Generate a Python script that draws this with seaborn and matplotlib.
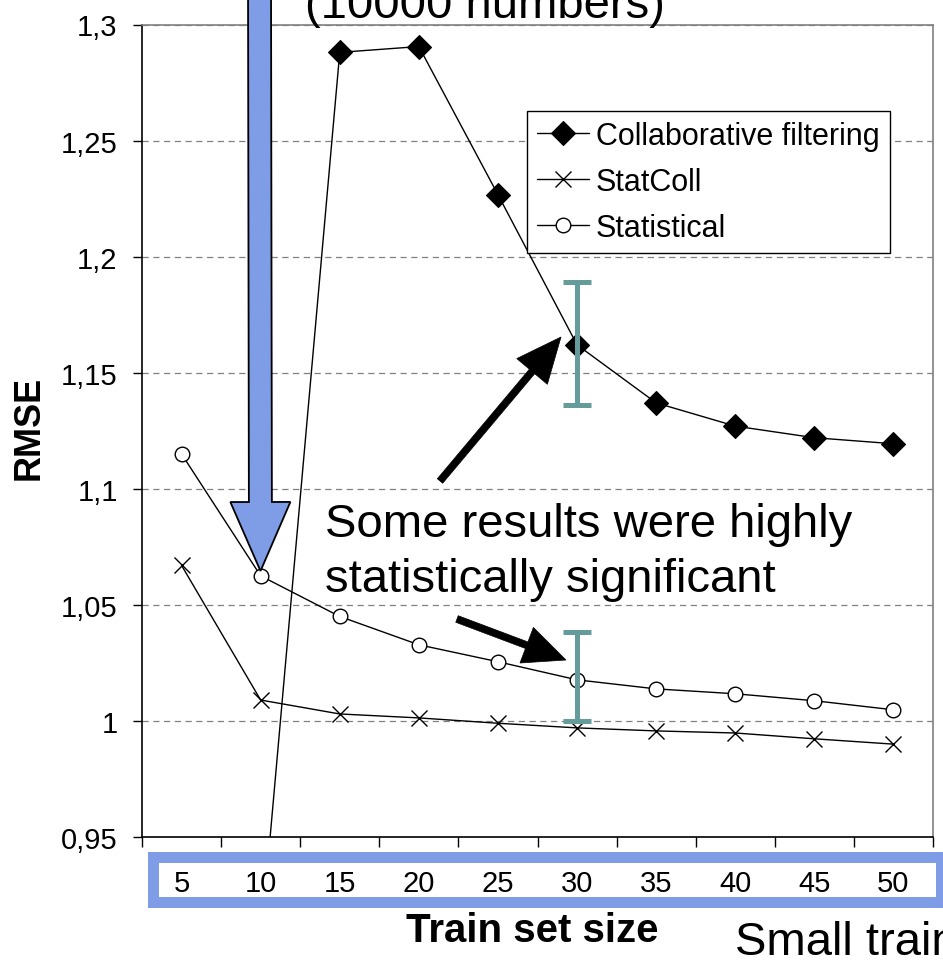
import numpy as np
import matplotlib
matplotlib.use("Agg")
import matplotlib.pyplot as plt
import seaborn as sns
from matplotlib.patches import Polygon, Rectangle
from matplotlib.transforms import Affine2D

# ---------------- data ----------------
train_sizes = [5, 10, 15, 20, 25, 30, 35, 40, 45, 50]
collab = [np.nan, 0.904, 1.288, 1.2905, 1.2267, 1.162, 1.137, 1.127, 1.122, 1.1194]
statcoll = [1.067, 1.009, 1.003, 1.0013, 0.999, 0.997, 0.9957, 0.9948, 0.9923, 0.990]
statistical = [1.115, 1.0625, 1.045, 1.0328, 1.0255, 1.0177, 1.0138, 1.0117, 1.0087, 1.0048]
series_names = ["Collaborative filtering", "StatColl", "Statistical"]
x_tick_labels = ["5", "10", "15", "20", "25", "30", "35", "40", "45", "50"]
y_ticks = [0.95, 1.0, 1.05, 1.1, 1.15, 1.2, 1.25, 1.3]
y_tick_labels = ["0,95", "1", "1,05", "1,1", "1,15", "1,2", "1,25", "1,3"]
sig_x = [30, 30]
sig_low = [1.1362, 1.0]
sig_high = [1.1892, 1.0384]

# ---------------- style ----------------
sns.set_style("white")
plt.rcParams["font.family"] = ["Liberation Sans", "DejaVu Sans"]
plt.rcParams["text.color"] = "black"
plt.rcParams["axes.labelcolor"] = "black"
plt.rcParams["xtick.color"] = "black"
plt.rcParams["ytick.color"] = "black"

W, H = 943, 962
fig = plt.figure(figsize=(W / 100, H / 100), dpi=100)
fig.patch.set_facecolor("white")
ax = fig.add_axes([142 / W, 1 - 838 / H, (933 - 142) / W, (838 - 25.5) / H])
ax.set_facecolor("white")

# pixel (top-left origin) -> figure transform
px = Affine2D().scale(1 / W, -1 / H).translate(0, 1) + fig.transFigure

BLUE = "#7f9ce6"
TEAL = "#649c9c"

sns.lineplot(x=train_sizes, y=collab, ax=ax, color="black", lw=1, marker="D",
             markersize=12.5, mfc="black", mec="black", mew=0.8,
             label=series_names[0], errorbar=None, zorder=3)
sns.lineplot(x=train_sizes, y=statcoll, ax=ax, color="black", lw=1, marker="x",
             markersize=12, mfc="black", mec="black", mew=1.0,
             label=series_names[1], errorbar=None, zorder=3)
sns.lineplot(x=train_sizes, y=statistical, ax=ax, color="black", lw=1, marker="o",
             markersize=10.5, mfc="white", mec="black", mew=1.0,
             label=series_names[2], errorbar=None, zorder=3)

# significance bars
mid = [(a + b) / 2 for a, b in zip(sig_low, sig_high)]
err = [[m - a for m, a in zip(mid, sig_low)], [b - m for m, b in zip(mid, sig_high)]]
ax.errorbar(sig_x, mid, yerr=err, fmt="none", ecolor=TEAL, elinewidth=3.6,
            capsize=10, capthick=3.6, zorder=5)

# axes
ax.set_xlim(2.5, 52.5)
ax.set_ylim(0.95, 1.3)
boundaries = np.arange(2.5, 53, 5)
ax.set_xticks(boundaries)
ax.set_xticklabels([""] * len(boundaries))
ax.set_xticks(train_sizes, minor=True)
ax.set_xticklabels(x_tick_labels, minor=True)
ax.tick_params(axis="x", which="major", length=7.2, width=1, direction="out", bottom=True)
ax.tick_params(axis="x", which="minor", length=0, pad=23, labelsize=21, bottom=True)
ax.set_yticks(y_ticks)
ax.set_yticklabels(y_tick_labels)
ax.tick_params(axis="y", length=6.5, width=1, direction="out", pad=11, labelsize=21, left=True)

ax.grid(axis="y", which="major", color="#808080", linestyle=(0, (5, 3.6)), lw=0.9)
ax.grid(axis="x", visible=False)
ax.set_axisbelow(True)

for s in ["left", "bottom"]:
    ax.spines[s].set_color("black")
    ax.spines[s].set_linewidth(1.2)
for s in ["top", "right"]:
    ax.spines[s].set_color("#808080")
    ax.spines[s].set_linewidth(1.2)
    ax.spines[s].set_visible(True)

ax.set_xlabel("Train set size", fontsize=29, fontweight="bold")
ax.xaxis.set_label_coords(0.493, (838 - 912) / 812)
ax.set_ylabel("RMSE", fontsize=26, fontweight="bold")
ax.yaxis.set_label_coords((47 - 142) / 791, (838 - 428) / 812)

leg = ax.legend(loc="upper left", bbox_to_anchor=(527 / W, 1 - 112 / H),
                bbox_transform=fig.transFigure, fontsize=22, frameon=True,
                fancybox=False, edgecolor="black", framealpha=1, borderaxespad=0,
                handlelength=1.7, handletextpad=0.23, borderpad=0.33, labelspacing=0.52)
leg.get_frame().set_linewidth(1.0)

# blue box around x tick labels
fig.add_artist(Rectangle((152.5, 857.5), 941 - 152.5, 902.5 - 857.5, transform=px,
                         fill=False, edgecolor=BLUE, lw=11 * 0.72, zorder=2))


def arrow_pts(x0, y0, x1, y1, sw, hw, hl):
    d = np.array([x1 - x0, y1 - y0], float)
    L = np.hypot(*d)
    u = d / L
    n = np.array([-u[1], u[0]])
    p0 = np.array([x0, y0], float)
    base = p0 + u * (L - hl)
    tip = np.array([x1, y1], float)
    return [p0 + n * sw / 2, base + n * sw / 2, base + n * hw / 2, tip,
            base - n * hw / 2, base - n * sw / 2, p0 - n * sw / 2]


# big blue arrow
fig.add_artist(Polygon(arrow_pts(259.5, -30, 260.5, 572, 23, 60, 69), closed=True,
                       transform=px, facecolor=BLUE, edgecolor="black", lw=1.3, zorder=6))
# black arrows
fig.add_artist(Polygon(arrow_pts(440, 482, 561, 338, 7, 40, 45), closed=True,
                       transform=px, facecolor="black", edgecolor="black", lw=0.5, zorder=6))
fig.add_artist(Polygon(arrow_pts(457, 620, 566, 661, 7, 38, 42), closed=True,
                       transform=px, facecolor="black", edgecolor="black", lw=0.5, zorder=6))

# slide texts
fig.text(305 / W, 1 - 18 / H, "(10000 numbers)", fontsize=34, va="baseline", ha="left")
fig.text(325 / W, 1 - 537 / H, "Some results were highly", fontsize=34, va="baseline", ha="left")
fig.text(325 / W, 1 - 592 / H, "statistically significant", fontsize=34, va="baseline", ha="left")
fig.text(735 / W, 1 - 955 / H, "Small train", fontsize=34, va="baseline", ha="left")

fig.savefig("out.png", dpi=100, facecolor="white")
